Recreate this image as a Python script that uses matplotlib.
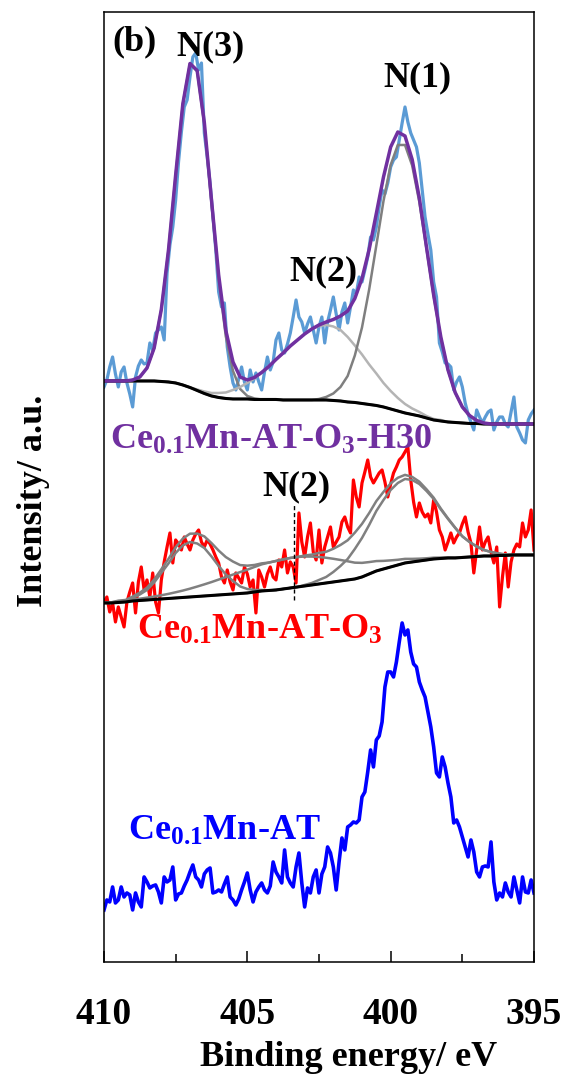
import numpy as np
from matplotlib import pyplot as plt

plt.rcParams["font.family"] = ["Liberation Serif", "DejaVu Serif"]
plt.rcParams["font.weight"] = "bold"
plt.rcParams["mathtext.fontset"] = "custom"
plt.rcParams["mathtext.rm"] = "Liberation Serif:bold"
plt.rcParams["mathtext.bf"] = "Liberation Serif:bold"
plt.rcParams["mathtext.it"] = "Liberation Serif:bold:italic"

# raw N 1s spectra, 0.1 eV steps from 410 down to 395 eV (offset for stacking)
h30_raw = [
    575, 582, 595, 605, 588, 575, 590, 595, 579, 568,
    555, 585, 596, 602, 598, 599, 619, 612, 629, 632,
    635, 622, 689, 717, 735, 762, 800, 830, 855, 862,
    885, 905, 909, 892, 899, 829, 805, 779, 745, 712,
    670, 655, 659, 615, 595, 579, 572, 583, 595, 580,
    572, 592, 580, 589, 580, 572, 590, 605, 592, 600,
    622, 629, 612, 609, 618, 629, 645, 662, 645, 640,
    629, 638, 645, 632, 619, 635, 645, 619, 640, 652,
    665, 648, 632, 650, 659, 639, 655, 672, 668, 685,
    680, 692, 705, 725, 722, 735, 755, 772, 768, 779,
    795, 802, 805, 822, 839, 855, 840, 829, 822, 815,
    799, 772, 745, 728, 712, 680, 665, 619, 610, 599,
    598, 595, 572, 580, 585, 575, 559, 548, 540, 532,
    552, 545, 539, 545, 550, 552, 532, 540, 545, 545,
    538, 535, 550, 565, 535, 529, 522, 519, 542, 548,
    552,
]
o3_raw = [
    360, 365, 350, 359, 340, 355, 345, 335, 360, 370,
    379, 349, 380, 395, 372, 382, 365, 389, 360, 349,
    382, 400, 415, 429, 399, 422, 418, 412, 425, 418,
    412, 422, 428, 432, 420, 415, 422, 418, 412, 405,
    399, 385, 379, 392, 380, 372, 389, 384, 379, 395,
    388, 375, 382, 349, 392, 385, 375, 388, 395, 385,
    382, 402, 395, 412, 389, 400, 395, 379, 449, 420,
    405, 425, 439, 410, 402, 432, 399, 415, 425, 435,
    415, 420, 425, 440, 445, 435, 429, 482, 465, 455,
    479, 490, 502, 485, 479, 484, 489, 492, 480, 465,
    478, 489, 495, 502, 505, 510, 515, 482, 460, 445,
    459, 450, 445, 448, 439, 462, 450, 432, 425, 412,
    420, 429, 419, 425, 429, 438, 445, 430, 419, 389,
    412, 435, 412, 420, 425, 410, 399, 415, 355, 385,
    409, 375, 400, 412, 418, 415, 439, 425, 432, 452,
    412,
]
at_raw = [
    52, 62, 60, 75, 59, 62, 75, 65, 69, 67,
    52, 69, 60, 55, 85, 80, 74, 76, 77, 70,
    59, 85, 80, 82, 95, 62, 68, 69, 76, 82,
    90, 97, 85, 82, 75, 88, 92, 94, 69, 70,
    72, 70, 78, 85, 65, 62, 57, 63, 72, 80,
    89, 72, 60, 70, 75, 79, 72, 69, 76, 100,
    90, 85, 79, 112, 85, 79, 75, 95, 109, 79,
    55, 74, 69, 85, 92, 69, 88, 95, 115, 109,
    95, 72, 100, 124, 112, 135, 137, 140, 139, 142,
    165, 170, 190, 212, 195, 222, 226, 240, 275, 290,
    290, 285, 300, 320, 339, 327, 332, 310, 298, 295,
    280, 272, 265, 250, 235, 215, 189, 185, 205, 195,
    179, 165, 139, 142, 135, 125, 115, 105, 122, 110,
    90, 85, 95, 96, 95, 120, 80, 62, 69, 65,
    79, 70, 65, 85, 72, 59, 85, 70, 69, 82,
    69,
]

# fitted curves, 0.25 eV steps from 410 down to 395 eV
h30_bg = [
    581, 581, 581, 581, 581, 581, 581, 581, 580.5, 580,
    579, 577, 574.5, 571.5, 568.5, 566, 564.5, 563.5, 563, 563,
    563, 562.5, 562.5, 562.5, 562.5, 562, 562, 562, 562, 562,
    562, 562, 561.5, 561, 560, 559.5, 558.5, 557.5, 556.5, 555,
    553, 551, 549, 547.5, 546, 544, 542, 541, 540, 539.5,
    539, 538.5, 538.5, 538, 538, 538, 538, 538, 538, 538,
    538,
]
h30_n3 = [
    0, 0, 0, 0, 1, 4, 13, 33, 72, 132,
    208, 281, 324, 319, 269, 193, 118, 62, 28, 10,
    3, 1, 0, 0, 0, 0, 0, 0, 0, 0,
    0, 0, 0, 0, 0, 0, 0, 0, 0, 0,
    0, 0, 0, 0, 0, 0, 0, 0, 0, 0,
    0, 0, 0, 0, 0, 0, 0, 0, 0, 0,
    0,
]
h30_n2 = [
    0, 0, 0, 0, 0, 0, 0, 0, 0, 0,
    0, 0, 0, 1, 2, 3, 4.5, 6, 9, 12,
    16, 21, 27, 33, 40, 47, 54, 60, 66, 71,
    74, 75, 74, 71, 65, 57, 49, 40, 32, 24,
    18, 13, 9, 6, 4, 2, 1, 1, 0, 0,
    0, 0, 0, 0, 0, 0, 0, 0, 0, 0,
    0,
]
h30_n1 = [
    0, 0, 0, 0, 0, 0, 0, 0, 0, 0,
    0, 0, 0, 0, 0, 0, 0, 0, 0, 0,
    0, 0, 0, 0, 0, 0, 0, 0, 0, 0,
    1, 3, 7, 14, 26, 47, 76, 115, 160, 206,
    244, 266, 268, 249, 214, 169, 124, 83, 52, 30,
    16, 8, 3, 1, 0, 0, 0, 0, 0, 0,
    0,
]
o3_bg = [
    359, 359, 359.5, 360, 361, 361.5, 362, 362.5, 363, 363.5,
    364, 364.5, 365, 365.5, 366, 366.5, 367, 367.5, 368, 368.5,
    369, 370, 371, 371.5, 372, 373, 374, 375, 376, 377,
    378, 379, 380, 381, 382, 383, 385, 388, 391, 393,
    395, 397, 399, 400, 401, 402, 403, 403.5, 404, 404,
    404.5, 405, 405.5, 406, 406, 406.5, 406.5, 407, 407, 407,
    407,
]
o3_n3 = [
    0, 0, 1, 1, 3, 6, 10, 17, 26, 35,
    45, 52, 55, 53, 48, 39, 29, 20, 13, 7,
    4, 2, 1, 0, 0, 0, 0, 0, 0, 0,
    0, 0, 0, 0, 0, 0, 0, 0, 0, 0,
    0, 0, 0, 0, 0, 0, 0, 0, 0, 0,
    0, 0, 0, 0, 0, 0, 0, 0, 0, 0,
    0,
]
o3_n2 = [
    0.4, 0.6, 0.8, 1.0, 1.4, 1.8, 2.3, 2.9, 3.7, 4.6,
    5.7, 6.9, 8.3, 9.9, 11.6, 13.4, 15.4, 17.4, 19.4, 21.4,
    23.3, 25, 26.6, 27.9, 29, 29.6, 30, 30, 29.4, 28.4,
    27, 25.2, 23.2, 21, 18.7, 16.3, 14.1, 11.9, 9.9, 8.1,
    6.6, 5.2, 4.1, 3.1, 2.3, 1.7, 1.3, 0.9, 0.6, 0.4,
    0.3, 0, 0, 0, 0, 0, 0, 0, 0, 0,
    0,
]
o3_n1 = [
    0, 0, 0, 0, 0, 0, 0, 0, 0, 0,
    0, 0, 0, 0, 0, 0, 0, 0, 0, 0,
    0, 0, 0, 0, 0, 0, 0, 0, 1, 2,
    4, 6, 10, 15, 21, 30, 39, 49, 60, 69,
    77, 82, 84, 82, 77, 69, 60, 49, 39, 30,
    21, 15, 10, 6, 4, 2, 1, 0, 0, 0,
    0,
]

e_raw = np.linspace(410, 395, len(h30_raw))
e_fit = np.linspace(410, 395, len(h30_bg))

fig = plt.figure(figsize=(5.67, 10.8), dpi=100)
ax = fig.add_axes([0.1834, 0.1093, 0.7584, 0.8796])

# Ce0.1Mn-AT-O3-H30
bg = np.array(h30_bg)
ax.plot(e_raw, h30_raw, color="#5b9bd5", lw=2.3)
ax.plot(e_fit, bg + np.array(h30_n3), color="#7f7f7f", lw=1.8)
ax.plot(e_fit, bg + np.array(h30_n2), color="#b4b4b4", lw=1.8)
ax.plot(e_fit, bg + np.array(h30_n1), color="#7f7f7f", lw=1.8)
ax.plot(e_fit, bg, color="black", lw=2.2)
env = bg + np.array(h30_n3) + np.array(h30_n2) + np.array(h30_n1)
ax.plot(e_fit, env, color="#7030a0", lw=2.5)

# Ce0.1Mn-AT-O3
bg = np.array(o3_bg)
ax.plot(e_raw, o3_raw, color="red", lw=2.3)
ax.plot(e_fit, bg + np.array(o3_n3), color="#808080", lw=1.8)
ax.plot(e_fit, bg + np.array(o3_n2), color="#808080", lw=1.8)
ax.plot(e_fit, bg + np.array(o3_n1), color="#808080", lw=1.8)
env = bg + np.array(o3_n3) + np.array(o3_n2) + np.array(o3_n1)
ax.plot(e_fit, env, color="#808080", lw=1.8)
ax.plot(e_fit, bg, color="black", lw=2.2)
ax.plot([403.37, 403.37], [362, 459], color="black", lw=1.0, ls=(0, (3, 2)))

# Ce0.1Mn-AT
ax.plot(e_raw, at_raw, color="#0000ff", lw=2.6)

fs = 26
ax.text(409.69, 912, "(b)", fontsize=fs, ha="left", va="baseline")
ax.text(406.27, 907, "N(3)", fontsize=fs, ha="center", va="baseline")
ax.text(399.08, 876, "N(1)", fontsize=fs, ha="center", va="baseline")
ax.text(402.34, 682, "N(2)", fontsize=fs, ha="center", va="baseline")
ax.text(403.3, 467, "N(2)", fontsize=fs, ha="center", va="baseline")
ax.text(409.79, 513, r"Ce$_{0.1}$Mn-AT-O$_3$-H30", fontsize=fs,
        color="#7030a0", ha="left", va="baseline")
ax.text(408.86, 323, r"Ce$_{0.1}$Mn-AT-O$_3$", fontsize=fs,
        color="red", ha="left", va="baseline")
ax.text(409.16, 122, r"Ce$_{0.1}$Mn-AT", fontsize=fs,
        color="#0000ff", ha="left", va="baseline")

ax.set_xlim(410, 395)
ax.set_ylim(0, 950)
ax.set_xticks([410, 405, 400, 395])
ax.set_xticks([407.5, 402.5, 397.5], minor=True)
ax.set_yticks([])
ax.tick_params(axis="x", which="major", direction="in", length=8, width=1.1,
               labelsize=27, pad=25)
ax.tick_params(axis="x", which="minor", direction="in", length=6, width=1.1)
for s in ax.spines.values():
    s.set_linewidth(1.1)

fig.text(349 / 567, 1 - 1066 / 1080, "Binding energy/ eV", fontsize=26,
         ha="center", va="baseline")
fig.text(34 / 567, 1 - 501 / 1080, "Intensity/ a.u.", fontsize=26,
         rotation=90, ha="center", va="center")

fig.savefig("out.png", dpi=100)
